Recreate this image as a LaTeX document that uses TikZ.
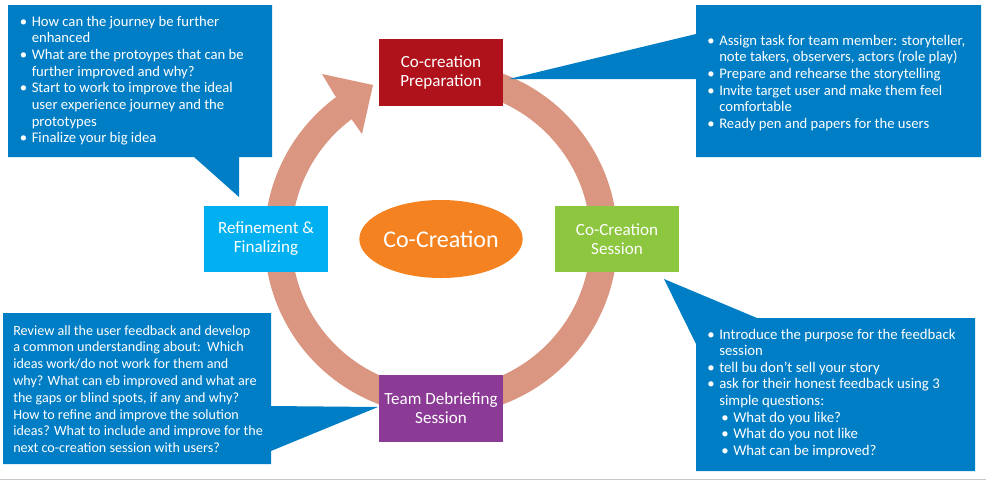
\documentclass[tikz,border=0pt]{standalone}
\usepackage{fontspec}
\setmainfont{Carlito}
\usetikzlibrary{shapes.geometric}
\definecolor{callblue}{RGB}{0,126,197}
\definecolor{prepred}{RGB}{176,18,27}
\definecolor{refblue}{RGB}{0,176,240}
\definecolor{sessgreen}{RGB}{141,198,63}
\definecolor{debpurple}{RGB}{139,58,150}
\definecolor{ringcol}{RGB}{218,150,129}
\definecolor{centerorange}{RGB}{245,130,32}
\newcommand{\bul}{\makebox[9pt][l]{\textbullet}}
\newcommand{\sbul}{\hspace*{1.5pt}\makebox[9pt][l]{\textbullet}}
\begin{document}
\begin{tikzpicture}[x=0.75pt,y=-0.75pt,
  stagebox/.style={fill=#1, minimum width=93pt, minimum height=50pt, inner sep=0pt, text=white, align=center, font=\fontsize{12.8}{14.25}\selectfont},
  callout/.style={fill=callblue},
  calltext/.style={anchor=base west, inner sep=0pt, text=white, font=\fontsize{11}{12.5}\selectfont}
]
\useasboundingbox (0,0) rectangle (986,480);
\draw[black!22, line width=0.75pt] (0,479) -- (986,479);

% ring with arrow head
\coordinate (c) at (441,239);
\draw[ringcol, line width=20.25pt] (441,76) arc[start angle=-90, end angle=235, radius=163];
\fill[ringcol] (334,94) -- (322,74) -- (373,85) -- (362,134) -- (350,117) -- cycle;

% callouts
\fill[callout] (8,5) -- (272,5) -- (272,157) -- (239,157) -- (239,197) -- (194,157) -- (8,157) -- cycle;
\fill[callout] (696,5) -- (981,5) -- (981,157) -- (696,157) -- (696,79) -- (509,79) -- (696,34) -- cycle;
\fill[callout] (3,313) -- (271,313) -- (271,406) -- (378,407) -- (271,451) -- (271,464) -- (3,464) -- cycle;
\fill[callout] (757,318) -- (975,318) -- (975,471) -- (696,471) -- (696,344) -- (664,279) -- cycle;

\node[calltext] (t1) at (19.5,26) {\begin{tabular}[t]{@{}l@{}l@{}}
\bul & How can the journey be further\\
 & enhanced\\
\bul & What are the protoypes that can be\\
 & further improved and why?\\
\bul & Start to work to improve the ideal\\
 & user experience journey and the\\
 & prototypes\\
\bul & Finalize your big idea
\end{tabular}};

\node[calltext] (t2) at (707,45) {\begin{tabular}[t]{@{}l@{}l@{}}
\bul & Assign task for team member: storyteller,\\
 & note takers, observers, actors (role play)\\
\bul & Prepare and rehearse the storytelling\\
\bul & Invite target user and make them feel\\
 & comfortable\\
\bul & Ready pen and papers for the users
\end{tabular}};

\node[calltext, font=\fontsize{10.6}{12.6}\selectfont] (t3) at (13,335) {\begin{tabular}[t]{@{}l@{}}
Review all the user feedback and develop\\
a common understanding about:\ \ Which\\
ideas work/do not work for them and\\
why? What can eb improved and what are\\
the gaps or blind spots, if any and why?\\
How to refine and improve the solution\\
ideas? What to include and improve for the\\
next co-creation session with users?
\end{tabular}};

\node[calltext, font=\fontsize{11.1}{12.45}\selectfont] (t4) at (707,339) {\begin{tabular}[t]{@{}l@{}l@{}}
\bul & Introduce the purpose for the feedback\\
 & session\\
\bul & tell bu don’t sell your story\\
\bul & ask for their honest feedback using 3\\
 & simple questions:\\
 & \sbul What do you like?\\
 & \sbul What do you not like\\
 & \sbul What can be improved?
\end{tabular}};

% stages
\node[stagebox=prepred] (prep) at (441,72.5) {Co-creation\\Preparation};
\node[stagebox=sessgreen] (sess) at (617,239) {Co-Creation\\Session};
\node[stagebox=debpurple] (deb) at (441,408.5) {Team Debriefing\\Session};
\node[stagebox=refblue] (ref) at (266,239) {Refinement \&\\Finalizing};
\node[ellipse, fill=centerorange, minimum width=102pt, minimum height=58.5pt, inner sep=0pt, text=white, font=\fontsize{18}{20}\selectfont] (core) at (441,239) {Co-Creation};
\end{tikzpicture}
\end{document}
